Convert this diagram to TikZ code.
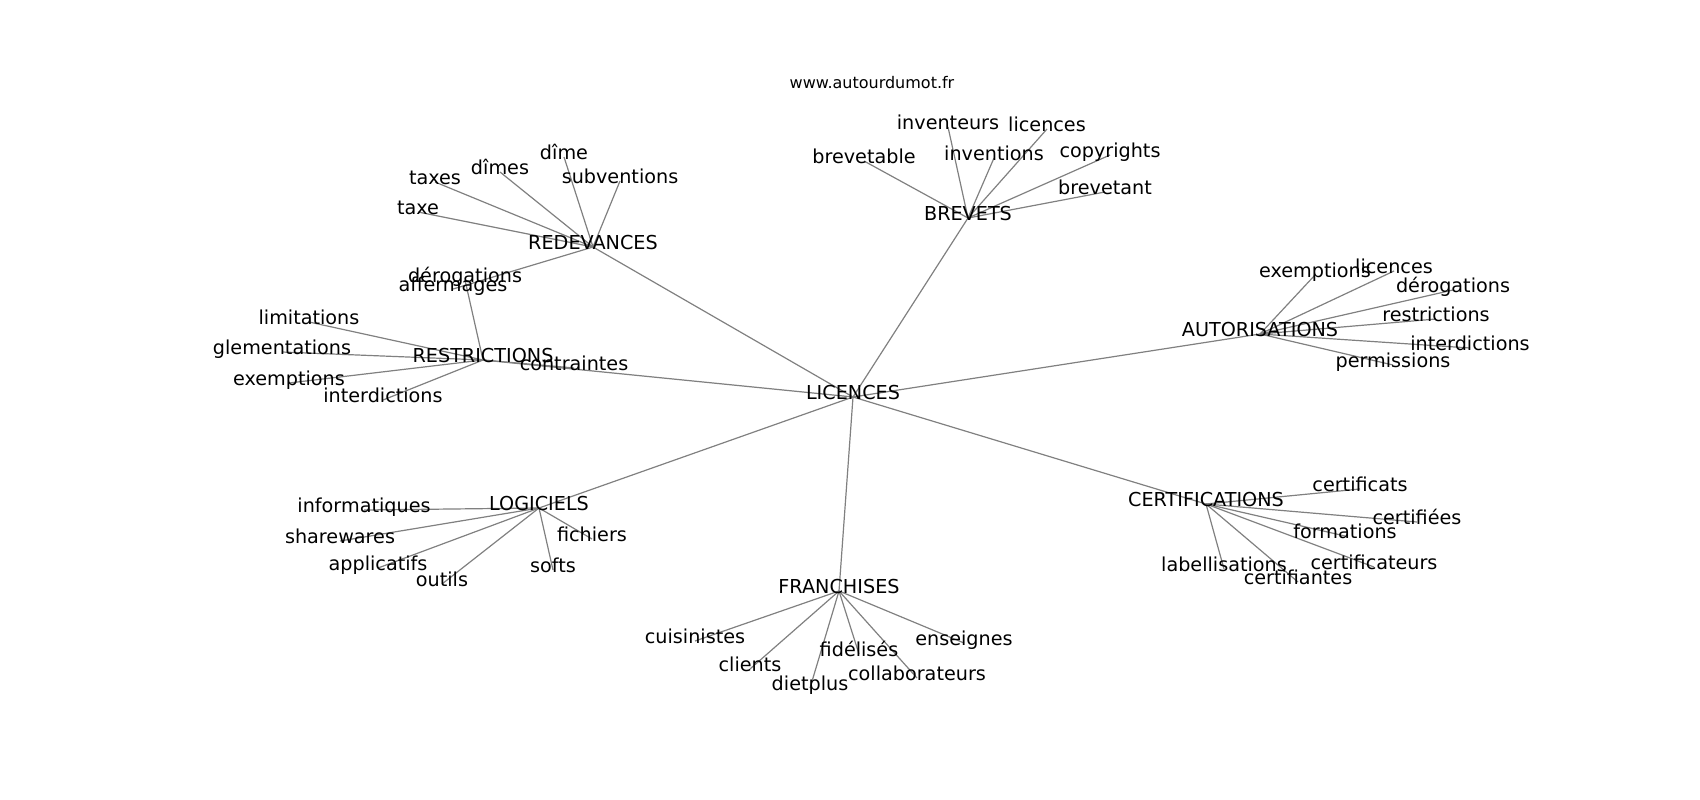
\documentclass[tikz,border=0pt]{standalone}
\usepackage{fontspec}
\setmainfont{DejaVu Sans}
\usepackage{xcolor}
\definecolor{EdgeGray}{HTML}{808080}
\usepackage{tikz}
\usetikzlibrary{backgrounds}

\begin{document}
\begin{tikzpicture}[
  x=1pt, y=-1pt,
  word/.style={inner sep=0pt, yshift=-3pt, text height=0.76em, text depth=0.21em, font=\fontsize{19.2}{22}\selectfont},
  site/.style={inner sep=0pt, font=\fontsize{16}{19}\selectfont},
  edge/.style={draw=EdgeGray, line width=1.2pt}
]
  \useasboundingbox (0,0) rectangle (1700,800);
  \node[site] (www) at (872,83) {www.autourdumot.fr};

  \node[word] (lic) at (853,394) {LICENCES};

  \node[word] (red) at (593,244) {REDEVANCES};
  \node[word] (taxe) at (418,209) {taxe};
  \node[word] (taxes) at (435,179) {taxes};
  \node[word] (dimes) at (500,169) {dîmes};
  \node[word] (dime) at (564,154) {dîme};
  \node[word] (subv) at (620,178) {subventions};
  \node[word] (aff) at (453,286) {affermages};

  \node[word] (res) at (483,357) {RESTRICTIONS};
  \node[word] (resder) at (465,277) {dérogations};
  \node[word] (lim) at (309,319) {limitations};
  \node[word] (glem) at (282,349) {glementations};
  \node[word] (resexe) at (289,380) {exemptions};
  \node[word] (resint) at (383,397) {interdictions};
  \node[word] (contr) at (574,365) {contraintes};

  \node[word] (brev) at (968,215) {BREVETS};
  \node[word] (inventeurs) at (948,124) {inventeurs};
  \node[word] (brevlic) at (1047,126) {licences};
  \node[word] (brevetable) at (864,158) {brevetable};
  \node[word] (inventions) at (994,155) {inventions};
  \node[word] (copy) at (1110,152) {copyrights};
  \node[word] (brevetant) at (1105,189) {brevetant};

  \node[word] (aut) at (1260,331) {AUTORISATIONS};
  \node[word] (autexe) at (1315,272) {exemptions};
  \node[word] (autlic) at (1394,268) {licences};
  \node[word] (autder) at (1453,287) {dérogations};
  \node[word] (autres) at (1436,316) {restrictions};
  \node[word] (autint) at (1470,345) {interdictions};
  \node[word] (perm) at (1393,362) {permissions};

  \node[word] (cert) at (1206,501) {CERTIFICATIONS};
  \node[word] (certificats) at (1360,486) {certificats};
  \node[word] (certifiees) at (1417,519) {certifiées};
  \node[word] (form) at (1345,533) {formations};
  \node[word] (label) at (1224,566) {labellisations};
  \node[word] (certificateurs) at (1374,564) {certificateurs};
  \node[word] (certifiantes) at (1298,579) {certifiantes};

  \node[word] (logi) at (539,505) {LOGICIELS};
  \node[word] (info) at (364,507) {informatiques};
  \node[word] (share) at (340,538) {sharewares};
  \node[word] (fich) at (592,536) {fichiers};
  \node[word] (appl) at (378,565) {applicatifs};
  \node[word] (softs) at (553,567) {softs};
  \node[word] (outils) at (442,581) {outils};

  \node[word] (fran) at (839,588) {FRANCHISES};
  \node[word] (cuis) at (695,638) {cuisinistes};
  \node[word] (ens) at (964,640) {enseignes};
  \node[word] (fid) at (859,651) {fidélisés};
  \node[word] (clients) at (750,666) {clients};
  \node[word] (collab) at (917,675) {collaborateurs};
  \node[word] (diet) at (810,685) {dietplus};

  \begin{scope}[on background layer]
    \foreach \hub in {red,res,brev,aut,cert,logi,fran}
      \draw[edge] (lic.center) -- (\hub.center);
    \foreach \leaf in {taxe,taxes,dimes,dime,subv,aff}
      \draw[edge] (red.center) -- (\leaf.center);
    \foreach \leaf in {resder,lim,glem,resexe,resint,contr}
      \draw[edge] (res.center) -- (\leaf.center);
    \foreach \leaf in {inventeurs,brevlic,brevetable,inventions,copy,brevetant}
      \draw[edge] (brev.center) -- (\leaf.center);
    \foreach \leaf in {autexe,autlic,autder,autres,autint,perm}
      \draw[edge] (aut.center) -- (\leaf.center);
    \foreach \leaf in {certificats,certifiees,form,label,certificateurs,certifiantes}
      \draw[edge] (cert.center) -- (\leaf.center);
    \foreach \leaf in {info,share,fich,appl,softs,outils}
      \draw[edge] (logi.center) -- (\leaf.center);
    \foreach \leaf in {cuis,ens,fid,clients,collab,diet}
      \draw[edge] (fran.center) -- (\leaf.center);
  \end{scope}
\end{tikzpicture}
\end{document}
